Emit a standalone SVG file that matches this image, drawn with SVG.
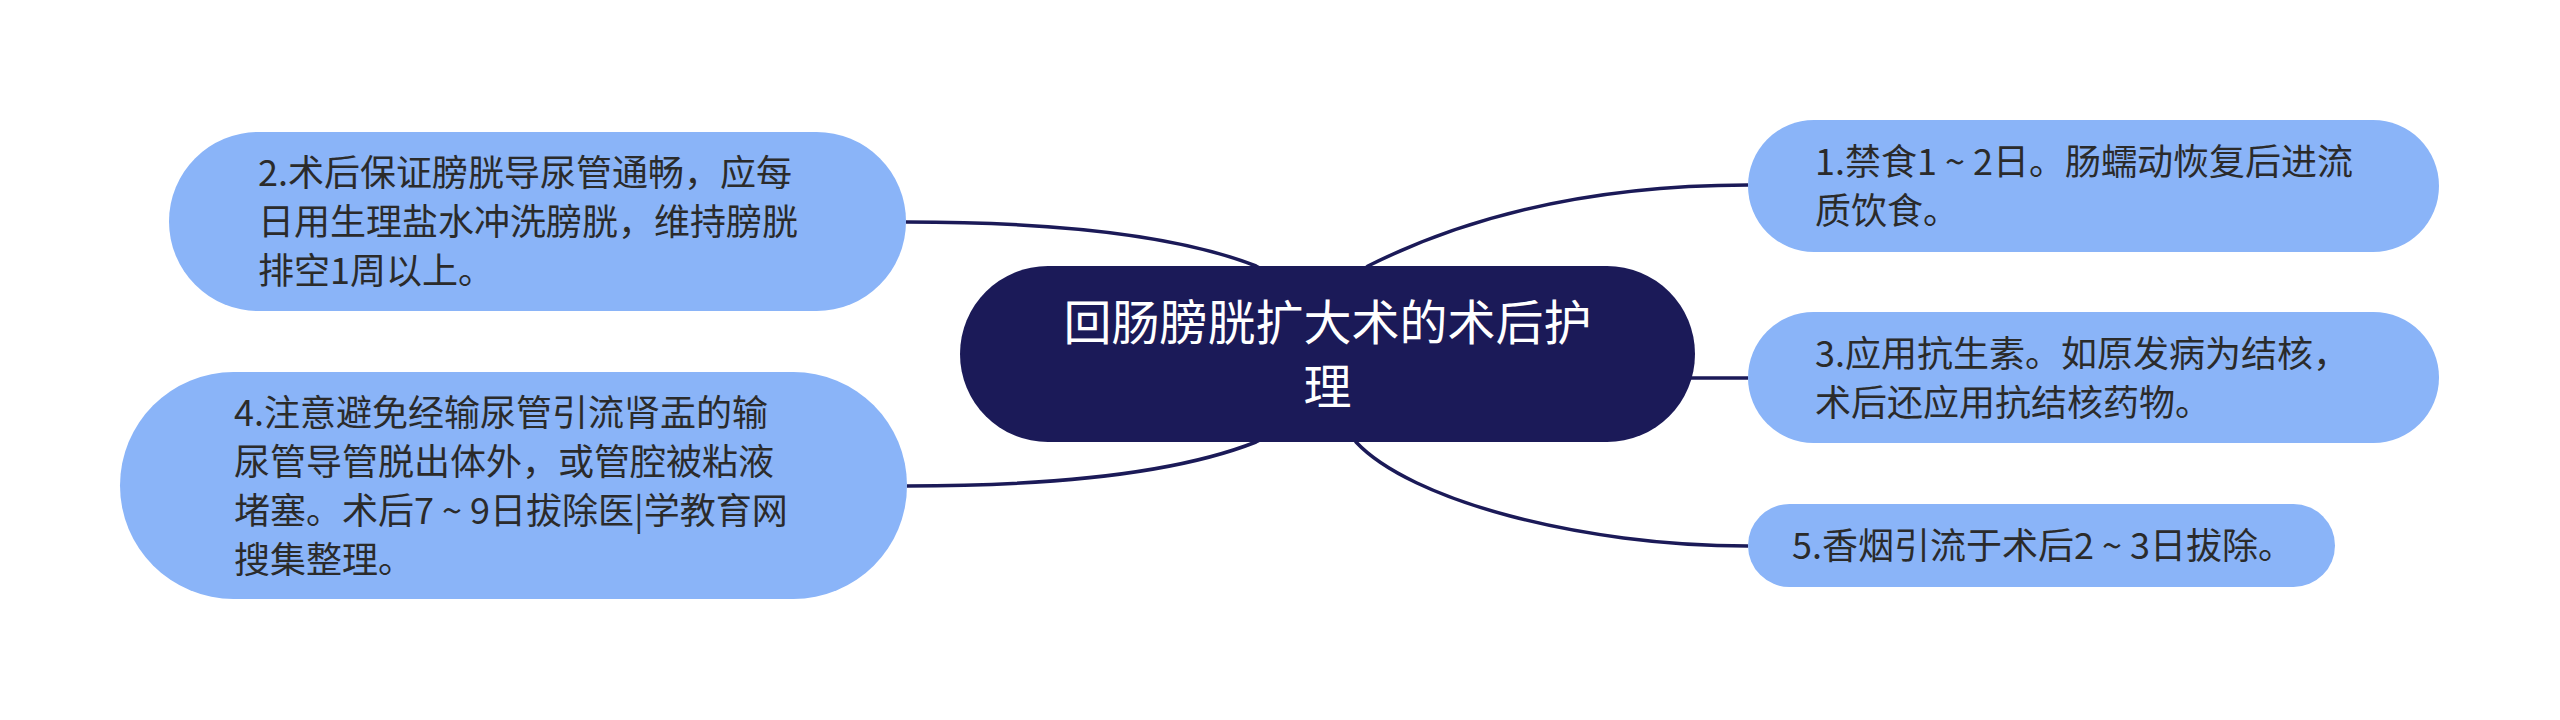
<svg xmlns="http://www.w3.org/2000/svg" width="2560" height="720" viewBox="0 0 2560 720">
  <style>
    .conn { fill: none; stroke: #1b1a58; stroke-width: 3.5; }
    .leaf { fill: #8ab4f8; }
    .root { fill: #1b1a58; }
    .t { font-family: "Noto Sans CJK SC", "Noto Sans", "Liberation Sans", sans-serif; font-size: 36px; fill: #2b2b2b; }
    .rt { font-family: "Noto Sans CJK SC", "Noto Sans", "Liberation Sans", sans-serif; font-size: 48px; fill: #ffffff; text-anchor: middle; }
  </style>
  <rect width="2560" height="720" fill="#ffffff"/>
  <g id="connectors">
    <path class="conn" d="M 906 222 C 1080 222, 1190 240, 1256 266 L 1300 290"/>
    <path class="conn" d="M 907 486 C 1080 486, 1190 468, 1256 442 L 1300 420"/>
    <path class="conn" d="M 1748 185 C 1560 185, 1440 230, 1368 266 L 1340 290"/>
    <path class="conn" d="M 1748 378 L 1670 378"/>
    <path class="conn" d="M 1748 546 C 1580 546, 1410 500, 1356 442 L 1340 420"/>
  </g>
  <g id="node-root">
    <rect class="root" x="960" y="266" width="735" height="176" rx="88" ry="88"/>
    <text class="rt" x="1327.5" y="340">回肠膀胱扩大术的术后护</text>
    <text class="rt" x="1327.5" y="404">理</text>
  </g>
  <g id="node-1">
    <rect class="leaf" x="1748" y="120" width="691" height="132" rx="66" ry="66"/>
    <text class="t" x="1815" y="175">1.禁食1 ~ 2日。肠蠕动恢复后进流</text>
    <text class="t" x="1815" y="224">质饮食。</text>
  </g>
  <g id="node-2">
    <rect class="leaf" x="169" y="132" width="737" height="179" rx="89.5" ry="89.5"/>
    <text class="t" x="258" y="186">2.术后保证膀胱导尿管通畅，应每</text>
    <text class="t" x="258" y="235">日用生理盐水冲洗膀胱，维持膀胱</text>
    <text class="t" x="258" y="284">排空1周以上。</text>
  </g>
  <g id="node-3">
    <rect class="leaf" x="1748" y="312" width="691" height="131" rx="65.5" ry="65.5"/>
    <text class="t" x="1815" y="366.5">3.应用抗生素。如原发病为结核，</text>
    <text class="t" x="1815" y="415.5">术后还应用抗结核药物。</text>
  </g>
  <g id="node-4">
    <rect class="leaf" x="120" y="372" width="787" height="227" rx="113.5" ry="113.5"/>
    <text class="t" x="234" y="426">4.注意避免经输尿管引流肾盂的输</text>
    <text class="t" x="234" y="475">尿管导管脱出体外，或管腔被粘液</text>
    <text class="t" x="234" y="524">堵塞。术后7 ~ 9日拔除医|学教育网</text>
    <text class="t" x="234" y="573">搜集整理。</text>
  </g>
  <g id="node-5">
    <rect class="leaf" x="1748" y="504" width="587" height="83" rx="41.5" ry="41.5"/>
    <text class="t" x="1792" y="559">5.香烟引流于术后2 ~ 3日拔除。</text>
  </g>
</svg>
